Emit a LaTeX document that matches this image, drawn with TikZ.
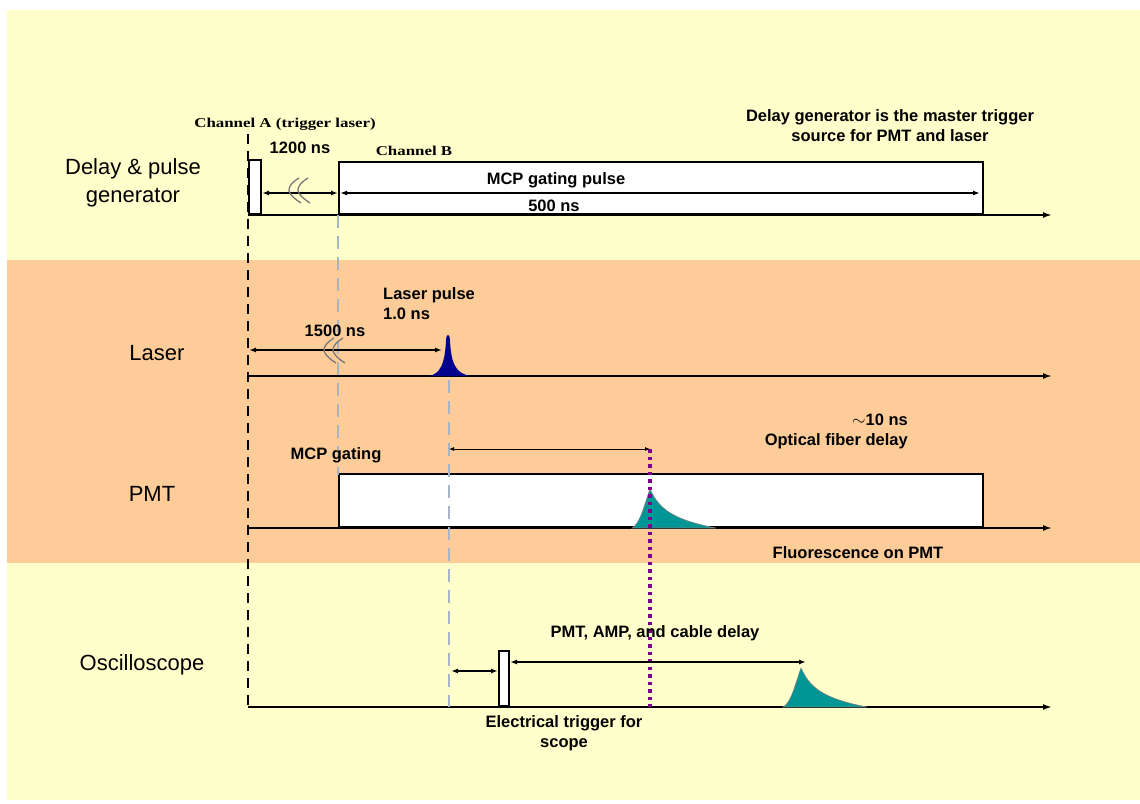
\documentclass[tikz,border=0pt]{standalone}
\usepackage{fontspec}
\setmainfont{Liberation Sans}
\newfontfamily\chfont{Liberation Serif}[FakeStretch=1.25]
\usetikzlibrary{arrows.meta}
\definecolor{bgyellow}{RGB}{255,255,204}
\definecolor{bandorange}{RGB}{253,204,153}
\definecolor{laserblue}{RGB}{0,0,140}
\definecolor{pulseteal}{RGB}{0,150,150}
\definecolor{guidegray}{RGB}{165,180,200}
\definecolor{dotpurple}{RGB}{125,0,140}
\definecolor{breakgray}{RGB}{120,120,120}
\begin{document}
\begin{tikzpicture}[x=1pt,y=-1pt,
  axis/.style={line width=2pt,-{Latex[length=9pt,width=6pt]}},
  pulsebox/.style={draw=black,line width=2pt,fill=white,inner sep=0pt,anchor=south west},
  dimarrow/.style={line width=1.5pt,{Latex[length=7pt,width=5pt]}-{Latex[length=7pt,width=5pt]}},
  thinarrow/.style={line width=0.9pt,{Latex[length=5pt,width=4pt]}-{Latex[length=5pt,width=4pt]}},
  lbl/.style={font=\fontsize{16.5}{20}\selectfont\bfseries,inner sep=0pt,align=center},
  rowlbl/.style={font=\fontsize{22}{28}\selectfont,inner sep=0pt,align=center},
  chlbl/.style={font=\chfont\bfseries\fontsize{13.5}{15}\selectfont,inner sep=0pt},
  guide/.style={guidegray,line width=2pt,dash pattern=on 13pt off 8pt},
  trig/.style={black,line width=2.5pt,dash pattern=on 10pt off 7pt},
  fiber/.style={dotpurple,line width=3.5pt,dash pattern=on 3.5pt off 4pt},
  brk/.pic={
    \foreach \dx in {0,9}{
      \draw[breakgray,line width=1.3pt] (\dx+7,-13) .. controls (\dx+2,-10) and (\dx-4,-5) .. (\dx-3,0)
        .. controls (\dx-2,4) and (\dx+4,9) .. (\dx+9,12);}
  },
  decay/.pic={
    \filldraw[fill=pulseteal,draw=black!50,line width=0.6pt] (-18,0) .. controls (-10,-4) and (-6,-22) .. (0,-39)
      .. controls (8,-22) and (18,-9) .. (66,0) -- cycle;
  }
]
\useasboundingbox (0,0) rectangle (1140,803);
% backgrounds
\fill[white] (0,0) rectangle (1140,803);
\fill[bgyellow] (7,10) rectangle (1140,800);
\fill[bandorange] (7,260) rectangle (1140,563);

% row labels
\node[rowlbl] (lDelay) at (133,183) {Delay \& pulse\\generator};
\node[rowlbl] (lLaser) at (157,353) {Laser};
\node[rowlbl] (lPMT) at (152,494) {PMT};
\node[rowlbl] (lOsc) at (142,665) {Oscilloscope};

% axes
\coordinate (d0) at (248,215); \coordinate (d1) at (1052,215);
\coordinate (l0) at (248,376); \coordinate (l1) at (1052,376);
\coordinate (p0) at (248,528); \coordinate (p1) at (1052,528);
\coordinate (o0) at (248,707); \coordinate (o1) at (1052,707);
\draw[axis] (d0) -- (d1);
\draw[axis] (l0) -- (l1);
\draw[axis] (p0) -- (p1);
\draw[axis] (o0) -- (o1);

% delay generator pulses
\node[pulsebox,minimum width=12pt,minimum height=54pt] (chA) at (248,215) {};
\node[pulsebox,minimum width=644pt,minimum height=52pt] (chB) at (338,215) {};

% PMT gate
\node[pulsebox,minimum width=644pt,minimum height=53pt] (gate) at (338,528) {};

% scope trigger
\node[pulsebox,minimum width=10pt,minimum height=55pt] (strig) at (498,707) {};

% pulses
\fill[laserblue] (429,376) .. controls (440,374) and (445,364) .. (446,340)
  .. controls (446.5,333) and (449.5,333) .. (450,340)
  .. controls (451,364) and (456,374) .. (471,376) -- cycle;
\pic at (650,528) {decay};
\pic at (801,707) {decay};

% guide lines
\coordinate (g1t) at (338,215); \coordinate (g1b) at (338,475);
\coordinate (g2t) at (449,380); \coordinate (g2b) at (449,707);
\coordinate (ft) at (650,449); \coordinate (fb) at (650,707);
\coordinate (tt) at (248,134); \coordinate (tb) at (248,712);
\draw[guide] (g1t) -- (g1b);
\draw[guide] (g2t) -- (g2b);
\draw[fiber] (ft) -- (fb);
\draw[trig] (tt) -- (tb);

% dimension arrows
\draw[dimarrow] (chA.east |- 0,193) -- (chB.west |- 0,193);
\draw[dimarrow] (340,193) -- (980,193);
\draw[dimarrow] (249,350) -- (442,350);
\draw[thinarrow] (g2t |- 0,449) -- (ft);
\draw[dimarrow] (451,671) -- (strig.west |- 0,671);
\draw[dimarrow] (strig.east |- 0,662) -- (806,662);

% break symbols
\pic at (292,191) {brk};
\pic at (327,351) {brk};

% texts
\node[chlbl] (tchA) at (285,124) {Channel A (trigger laser)};
\node[chlbl] (tchB) at (414,151) {Channel B};
\node[lbl] (t1200) at (300,148) {1200 ns};
\node[lbl] (tmcp) at (556,180) {MCP gating pulse};
\node[lbl] (t500) at (554,206) {500 ns};
\node[lbl] (tmaster) at (890,126) {Delay generator is the master trigger\\source for PMT and laser};
\node[lbl,align=left,anchor=west] (tlp) at (383,304) {Laser pulse\\1.0 ns};
\node[lbl] (t1500) at (335,331) {1500 ns};
\node[lbl] (tgating) at (336,455) {MCP gating};
\node[lbl,align=right,anchor=east] (tfiber) at (908,431) {$\sim$10 ns\\Optical fiber delay};
\node[lbl] (tfluo) at (858,553) {Fluorescence on PMT};
\node[lbl] (tamp) at (655,633) {PMT, AMP, and cable delay};
\node[lbl] (tetrig) at (564,733) {Electrical trigger for\\scope};
\end{tikzpicture}
\end{document}
